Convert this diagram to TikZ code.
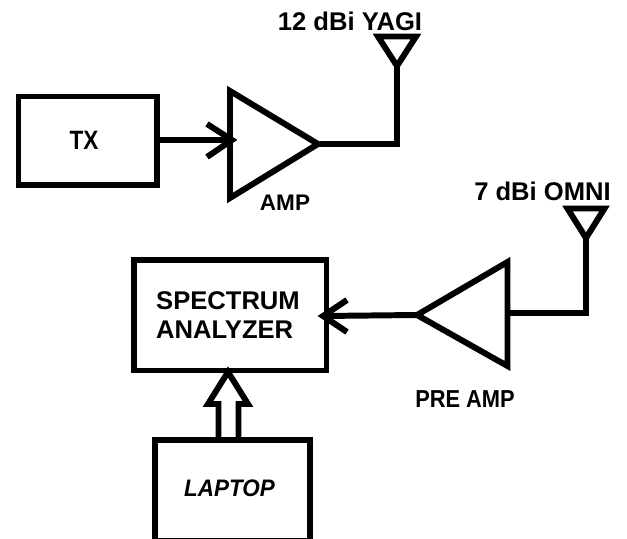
\documentclass[tikz,border=0pt]{standalone}
\usepackage{fontspec}
\setmainfont{Liberation Sans}
\usepackage{tikz}

\newcommand{\narrowlab}[2]{\scalebox{#1}[1]{#2}}

\tikzset{
  blockbox/.style={draw,line width=4.5pt,anchor=north west,inner sep=0pt,outer sep=0pt},
  tri/.style={draw,line width=4.5pt,miter limit=10},
  wire/.style={line width=4.5pt,miter limit=10},
  lab/.style={font=\bfseries\fontsize{19.3}{21}\selectfont,inner sep=0pt},
  sublab/.style={font=\bfseries\fontsize{17}{19}\selectfont,inner sep=0pt}
}

\begin{document}
\begin{tikzpicture}[x=.0265cm,y=-.0265cm]
  \useasboundingbox (0,0) rectangle (627,539);

  % upper chain
  \node[blockbox,minimum width=138.5*.0265cm,minimum height=88.5*.0265cm] (tx) at (18.5,96.5) {};
  \node[sublab,font=\bfseries\fontsize{20}{22}\selectfont] (txlab) at (84,140) {\narrowlab{.85}{TX}};
  \coordinate (ampa) at (230,91);
  \coordinate (ampb) at (230,198);
  \coordinate (ampc) at (318,144);
  \coordinate (ampin) at (230,140);
  \coordinate (tiptx) at (232,140);
  \draw[tri] (ampa) -- (ampb) -- (ampc) -- cycle;
  \node[sublab] (amplab) at (285,203) {AMP};
  \draw[wire] (tx.east |- ampin) -- (tiptx);
  \draw[wire] (207,124) -- (tiptx) -- (207,157);
  \coordinate (yagia) at (378,36.5);
  \coordinate (yagib) at (416,36.5);
  \coordinate (yagic) at (397,66);
  \draw[tri] (yagia) -- (yagib) -- (yagic) -- cycle;
  \draw[wire] (ampc) -- (yagic |- ampc) -- (yagic);
  \node[lab] (yagilab) at (350,21) {12 dBi YAGI};

  % lower chain
  \node[blockbox,minimum width=192.5*.0265cm,minimum height=110.5*.0265cm] (sa) at (134,260) {};
  \node[lab,align=left] (salab) at (228,315) {SPECTRUM\\[.8pt]ANALYZER};
  \coordinate (prea) at (507.5,262);
  \coordinate (preb) at (507.5,366);
  \coordinate (prec) at (417,315);
  \draw[tri] (prea) -- (preb) -- (prec) -- cycle;
  \node[sublab,font=\bfseries\fontsize{18.5}{20}\selectfont] (prelab) at (465,399) {\narrowlab{.89}{PRE AMP}};
  \coordinate (omnia) at (567.5,208.5);
  \coordinate (omnib) at (604.5,208.5);
  \coordinate (omnic) at (586,238);
  \draw[tri] (omnia) -- (omnib) -- (omnic) -- cycle;
  \node[lab] (omnilab) at (542.5,191) {7 dBi OMNI};
  \draw[wire] (omnic) -- (omnic |- 0,313) -- (507.5,313);
  \draw[wire] (prec) -- (323,316);
  \draw[wire] (347,300) -- (323,316) -- (347,332);

  % laptop
  \node[blockbox,minimum width=155*.0265cm,minimum height=101*.0265cm] (lap) at (155,440) {};
  \node[sublab,font=\bfseries\itshape\fontsize{18}{20}\selectfont] (laplab) at (229.5,488) {\narrowlab{.94}{LAPTOP}};
  \draw[wire] (218.5,440) -- (218.5,404) -- (208,404) -- (228,372) -- (248,404) -- (238.5,404) -- (238.5,440);
\end{tikzpicture}
\end{document}
